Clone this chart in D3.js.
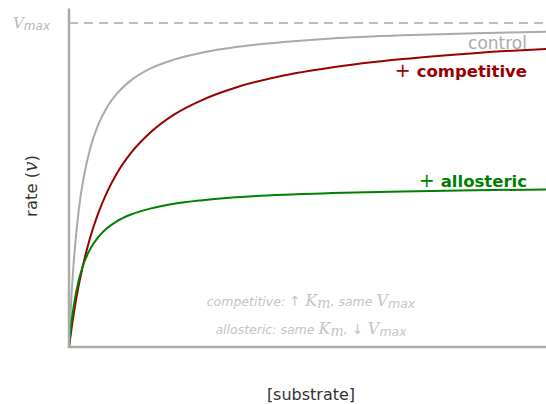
<!DOCTYPE html>
<html><head><meta charset="utf-8">
<script src="https://cdn.jsdelivr.net/npm/d3@7"></script>
<style>html,body{margin:0;padding:0;background:#fff;} svg{display:block;}</style>
</head><body>
<svg id="chart" width="546" height="404"></svg>
<script>
// substrate concentration (arbitrary units)
const substrate = [0, 0.05, 0.1, 0.2, 0.3, 0.45, 0.6, 0.8, 1, 1.3, 1.7, 2.2, 2.8, 3.5, 4.5, 5.5, 7, 8.5, 10, 10.3];
// rate as fraction of Vmax
const controlRate     = [0, 0.152, 0.263, 0.417, 0.517, 0.616, 0.682, 0.741, 0.781, 0.823, 0.859, 0.887, 0.909, 0.926, 0.941, 0.952, 0.962, 0.968, 0.973, 0.974];
const competitiveRate = [0, 0.054, 0.103, 0.187, 0.256, 0.341, 0.408, 0.479, 0.535, 0.599, 0.661, 0.717, 0.763, 0.801, 0.838, 0.863, 0.889, 0.907, 0.920, 0.922];
const allostericRate  = [0, 0.074, 0.128, 0.204, 0.254, 0.304, 0.337, 0.367, 0.388, 0.409, 0.427, 0.442, 0.453, 0.462, 0.470, 0.475, 0.480, 0.484, 0.486, 0.486];
const seriesNames = ["control", "competitive", "allosteric"];
const vmax = 1;

const svg = d3.select("#chart");
const x = d3.scaleLinear().domain([0, 10]).range([69, 546]);
const y = d3.scaleLinear().domain([0, 1]).range([347, 23]);
const yTop = 1.045;

// Vmax dashed line
svg.append("line")
  .attr("x1", x(0)).attr("x2", 546)
  .attr("y1", y(vmax)).attr("y2", y(vmax))
  .attr("stroke", "#bdbdbd").attr("stroke-width", 2)
  .attr("stroke-dasharray", "9,6");

const line = d3.line().x(d => x(d[0])).y(d => y(d[1])).curve(d3.curveMonotoneX);
const series = [
  {name: seriesNames[0], vals: controlRate, color: "#aaaaaa"},
  {name: seriesNames[1], vals: competitiveRate, color: "#990000"},
  {name: seriesNames[2], vals: allostericRate, color: "#008000"}
];
series.forEach(s => {
  svg.append("path")
    .datum(substrate.map((v, i) => [v, s.vals[i]]))
    .attr("d", line).attr("fill", "none")
    .attr("stroke", s.color).attr("stroke-width", 2);
});

// axes
svg.append("line").attr("x1", x(0)).attr("x2", x(0)).attr("y1", y(0) + 1).attr("y2", y(yTop))
  .attr("stroke", "#aaaaaa").attr("stroke-width", 2.5);
svg.append("line").attr("x1", x(0) - 1).attr("x2", 546).attr("y1", y(0)).attr("y2", y(0))
  .attr("stroke", "#aaaaaa").attr("stroke-width", 2.5);

// Vmax label
const vl = svg.append("text").attr("x", 50).attr("y", y(vmax) + 5).attr("text-anchor", "end")
  .attr("fill", "#b8b8b8").attr("font-size", 15);
vl.append("tspan").attr("font-family", "DejaVu Serif").attr("font-style", "italic").text("V");
vl.append("tspan").attr("font-family", "DejaVu Sans").attr("font-style", "italic").attr("font-size", 12).attr("dy", 2).text("max");

// series labels
svg.append("text").attr("x", 527).attr("y", y(0.92)).attr("text-anchor", "end")
  .attr("font-family", "DejaVu Sans").attr("font-size", 17).attr("fill", "#aaaaaa")
  .text(seriesNames[0]);
function plusLabel(val, name, color) {
  const t = svg.append("text").attr("x", 527).attr("y", y(val)).attr("text-anchor", "end")
    .attr("font-family", "DejaVu Sans").attr("font-size", 16.5).attr("fill", color);
  t.append("tspan").attr("font-size", 19).text("+ ");
  t.append("tspan").attr("font-weight", "bold").text(name);
}
plusLabel(0.832, seriesNames[1], "#990000");
plusLabel(0.493, seriesNames[2], "#008000");

// annotations
function annot(yy, parts) {
  const t = svg.append("text").attr("x", 311).attr("y", yy).attr("text-anchor", "middle")
    .attr("fill", "#c4c4c4").attr("font-size", 12.5).attr("font-family", "DejaVu Sans").attr("font-style", "italic");
  parts.forEach(p => {
    const ts = t.append("tspan").text(p.t);
    if (p.serif) ts.attr("font-family", "DejaVu Serif").attr("font-size", 16);
    if (p.sub) ts.attr("font-size", p.serif ? 14 : 12.5).attr("dy", p.dy);
    if (p.up) ts.attr("font-style", "normal").attr("font-size", 14);
  });
}
annot(306, [
  {t: "competitive: "}, {t: "↑ ", up: true}, {t: "K", serif: true},
  {t: "m", serif: true, sub: true, dy: 2}, {t: ", same ", sub: true, dy: -2},
  {t: "V", serif: true}, {t: "max", sub: true, dy: 2}
]);
annot(334, [
  {t: "allosteric: same "}, {t: "K", serif: true},
  {t: "m", serif: true, sub: true, dy: 2}, {t: ", ", sub: true, dy: -2},
  {t: "↓ ", up: true}, {t: "V", serif: true}, {t: "max", sub: true, dy: 2}
]);

// axis titles
svg.append("text").attr("x", 311).attr("y", 400).attr("text-anchor", "middle")
  .attr("font-family", "DejaVu Sans").attr("font-size", 16).attr("fill", "#333")
  .text("[substrate]");
const yl = svg.append("text").attr("transform", "translate(37,186) rotate(-90)").attr("text-anchor", "middle")
  .attr("font-family", "DejaVu Sans").attr("font-size", 16.5).attr("fill", "#333");
yl.append("tspan").text("rate (");
yl.append("tspan").attr("font-family", "DejaVu Serif").attr("font-style", "italic").attr("font-size", 18).text("v");
yl.append("tspan").text(")");
</script>
</body></html>
